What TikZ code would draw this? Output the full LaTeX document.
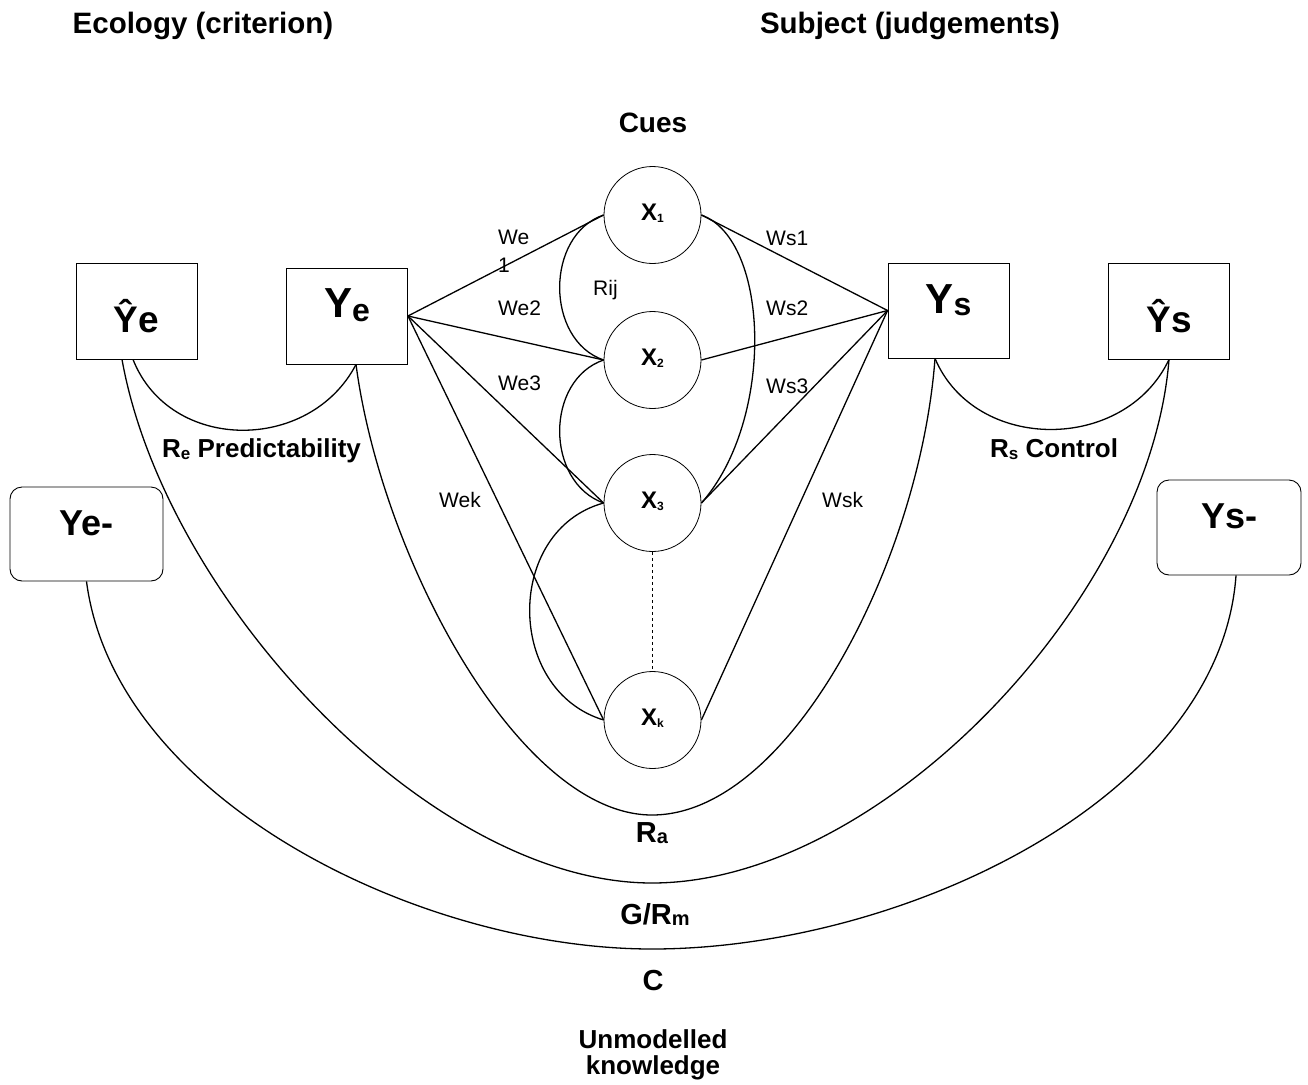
\documentclass[tikz,border=0pt]{standalone}
\usepackage{fontspec}
\setmainfont{Liberation Sans}
\usepackage{tikz}
\tikzset{>=latex}
\usetikzlibrary{calc,positioning}

\newcommand{\fsz}[1]{\fontsize{#1}{#1}\selectfont}
\newcommand{\lsub}[3][4]{\raisebox{-#1pt}{\fsz{#2}#3}}

\tikzset{
  cue/.style={draw, circle, line width=0.8pt, minimum size=97pt, inner sep=0pt,
    font=\bfseries\fsz{24}, text height=12pt, text depth=2pt},
  judge/.style={draw, line width=0.9pt, minimum width=121pt, minimum height=96pt, inner sep=0pt},
  judgeround/.style={judge, rounded corners=12pt},
  wlab/.style={anchor=base west, inner sep=0pt, font=\fsz{21}},
  blab/.style={anchor=base, inner sep=0pt, font=\bfseries\fsz{29}},
  link/.style={line width=1.3pt},
}

\begin{document}
\begin{tikzpicture}[x=1pt,y=-1pt]
            \useasboundingbox (0,0) rectangle (1308,1084);

            % headings
            \node[anchor=base, inner sep=0pt, font=\bfseries\fsz{29.5}] (ecol) at (203,33) {Ecology (criterion)};
            \node[anchor=base, inner sep=0pt, font=\bfseries\fsz{29.5}] (subj) at (910,33) {Subject (judgements)};
            \node[anchor=base, inner sep=0pt, font=\bfseries\fsz{28}] (cues) at (653,132) {Cues};

            % judgements and criteria
            \node[judge, text height=42pt, text depth=0pt, font=\bfseries\fsz{37}] (yehat) at (136.5,311) {Ŷe};
            \node[judge, text height=20pt, text depth=18pt, font=\bfseries\fsz{42}] (ye) at (347,316) {Y\lsub{32}{e}};
            \node[judge, minimum height=95pt, text height=20pt, text depth=15pt, font=\bfseries\fsz{42}] (ys) at (948.5,310.5) {Y\lsub[2]{32}{s}};
            \node[judge, text height=42pt, text depth=0pt, font=\bfseries\fsz{37}] (yshat) at (1169,311) {Ŷs};
            \node[judgeround, minimum width=153pt, minimum height=94pt, text height=20pt, text depth=18pt, font=\bfseries\fsz{36}] (yemin) at (86.5,534) {Ye-};
            \node[judgeround, minimum width=144pt, minimum height=95pt, text height=20pt, text depth=19pt, font=\bfseries\fsz{36}] (ysmin) at (1229,527.5) {Ys-};

            % cues
            \node[cue] (xone) at (652.5,215) {X\lsub[2]{12}{1}};
            \node[cue] (xtwo) at (652.5,360) {X\lsub[2]{12}{2}};
            \node[cue] (xthree) at (652.5,503) {X\lsub[2]{12}{3}};
            \node[cue] (xk) at (652.5,720) {X\lsub[2]{12}{k}};

            \foreach \c in {xone,xtwo,xthree,xk}
            {
            \draw[link] (ye.east) -- (\c.west);
            \draw[link] (ys.west) -- (\c.east);
            }

            % intercorrelations
            \draw[link] (xone.west) .. controls (545,235) and (545,340) .. (xtwo.west);
            \draw[link] (xtwo.west) .. controls (545,380) and (545,482) .. (xthree.west);
            \draw[link] (xthree.west) .. controls (505,530) and (505,690) .. (xk.west);
            \draw[link] (xone.east) .. controls (770,240) and (775,420) .. (xthree.east);
            \draw[line width=1pt, dashed] (xthree.south) -- (xk.north);

            % weights
            \node[anchor=north west, inner sep=0pt, align=left, font=\fontsize{21}{28}\selectfont] (we1) at (498,230) {We\\1};
            \node[wlab] (we2) at (498,315) {We2};
            \node[wlab] (we3) at (498,390) {We3};
            \node[wlab] (wek) at (439,507) {Wek};
            \node[wlab] (rij) at (593,295) {Rij};
            \node[wlab] (ws1) at (766,245) {Ws1};
            \node[wlab] (ws2) at (766,315) {Ws2};
            \node[wlab] (ws3) at (766,393) {Ws3};
            \node[wlab] (wsk) at (822,507) {Wsk};

            % achievement curves
            \draw[link] ([xshift=-3.5pt]yehat.south) .. controls (170,453) and (310,453) .. ([xshift=9pt]ye.south);
            \draw[link] ([xshift=-13.5pt]ys.south) .. controls (975,453) and (1125,453) .. (yshat.south);
            \draw[link] ([xshift=9pt]ye.south) .. controls (382,560) and (520,815) .. (652,815)
                                              .. controls (790,815) and (920,560) .. ([xshift=-13.5pt]ys.south);
            \draw[link] ([xshift=-14.5pt]yehat.south) .. controls (165,600) and (430,883) .. (652,883)
                                              .. controls (880,883) and (1150,600) .. (yshat.south);
            \draw[link] (yemin.south) .. controls (115,800) and (420,949) .. (652,949)
                                              .. controls (900,949) and (1220,800) .. ([xshift=7pt]ysmin.south);

            \node[anchor=base west, inner sep=0pt, font=\bfseries\fsz{26}] (repred) at (162,457) {R\lsub[2]{17}{e} Predictability};
            \node[anchor=base west, inner sep=0pt, font=\bfseries\fsz{26}] (rscont) at (990,457) {R\lsub[2]{17}{s} Control};
            \node[blab] (ra) at (652,842) {R\lsub[1]{20}{a}};
            \node[blab] (grm) at (655,924) {G/R\lsub[1]{20}{m}};
            \node[blab] (cc) at (653,990) {C};
            \node[anchor=north, inner sep=0pt, align=center, font=\bfseries\fontsize{26}{26}\selectfont] (unmod) at (653,1029) {Unmodelled\\knowledge};
\end{tikzpicture}
\end{document}
